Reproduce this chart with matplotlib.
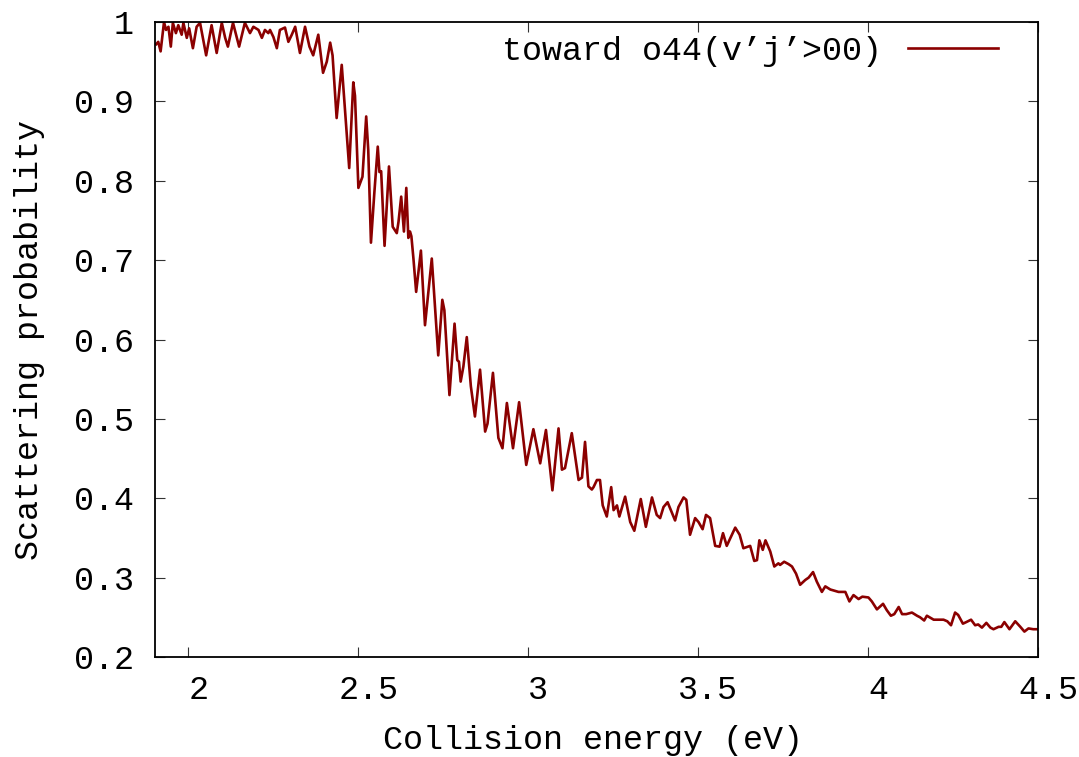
import matplotlib
matplotlib.use("Agg")
import matplotlib.pyplot as plt
from matplotlib.transforms import ScaledTranslation

energy = [
    1.905, 1.911, 1.918, 1.928, 1.934, 1.941, 1.948, 1.954, 1.963, 1.970,
    1.980, 1.985, 1.995, 2.002, 2.013, 2.024, 2.034, 2.052, 2.068, 2.083,
    2.098, 2.108, 2.116, 2.131, 2.149, 2.166, 2.181, 2.191, 2.206, 2.216,
    2.225, 2.235, 2.240, 2.250, 2.260, 2.269, 2.284, 2.294, 2.304, 2.314,
    2.328, 2.343, 2.356, 2.367, 2.382, 2.396, 2.407, 2.417, 2.424, 2.436,
    2.451, 2.473, 2.485, 2.490, 2.500, 2.512, 2.523, 2.529, 2.537, 2.547,
    2.557, 2.562, 2.567, 2.577, 2.590, 2.601, 2.613, 2.618, 2.626, 2.634,
    2.641, 2.647, 2.652, 2.656, 2.662, 2.670, 2.684, 2.696, 2.716, 2.735,
    2.747, 2.753, 2.768, 2.783, 2.791, 2.796, 2.801, 2.809, 2.819, 2.831,
    2.843, 2.858, 2.873, 2.880, 2.896, 2.912, 2.924, 2.937, 2.955, 2.973,
    2.994, 3.015, 3.035, 3.052, 3.071, 3.089, 3.099, 3.108, 3.128, 3.148,
    3.158, 3.167, 3.177, 3.187, 3.192, 3.202, 3.211, 3.219, 3.231, 3.244,
    3.251, 3.261, 3.268, 3.285, 3.300, 3.312, 3.331, 3.346, 3.364, 3.378,
    3.388, 3.398, 3.410, 3.432, 3.442, 3.457, 3.465, 3.476, 3.491, 3.501,
    3.513, 3.523, 3.535, 3.550, 3.563, 3.573, 3.584, 3.609, 3.622, 3.633,
    3.653, 3.665, 3.673, 3.680, 3.690, 3.698, 3.712, 3.724, 3.736, 3.741,
    3.753, 3.766, 3.776, 3.788, 3.800, 3.815, 3.825, 3.838, 3.849, 3.864,
    3.874, 3.889, 3.913, 3.933, 3.945, 3.957, 3.972, 3.983, 4.001, 4.011,
    4.026, 4.044, 4.055, 4.067, 4.077, 4.090, 4.100, 4.112, 4.129, 4.144,
    4.153, 4.165, 4.173, 4.193, 4.222, 4.233, 4.244, 4.256, 4.265, 4.279,
    4.289, 4.303, 4.315, 4.324, 4.335, 4.348, 4.360, 4.369, 4.384, 4.392,
    4.401, 4.416, 4.433, 4.448, 4.460, 4.472, 4.486, 4.499,
]

probability = [
    0.972, 0.975, 0.963, 1.000, 0.990, 0.994, 0.969, 0.999, 0.986, 0.996,
    0.984, 0.999, 0.980, 0.992, 0.967, 0.994, 0.999, 0.958, 0.996, 0.961,
    0.999, 0.980, 0.969, 0.999, 0.969, 0.999, 0.986, 0.994, 0.990, 0.980,
    0.990, 0.986, 0.990, 0.981, 0.967, 0.990, 0.993, 0.975, 0.984, 0.994,
    0.961, 0.994, 0.969, 0.958, 0.984, 0.936, 0.950, 0.974, 0.958, 0.879,
    0.946, 0.816, 0.924, 0.907, 0.791, 0.805, 0.881, 0.839, 0.722, 0.785,
    0.843, 0.811, 0.812, 0.718, 0.818, 0.742, 0.734, 0.748, 0.780, 0.736,
    0.791, 0.728, 0.736, 0.730, 0.702, 0.660, 0.712, 0.618, 0.702, 0.580,
    0.650, 0.637, 0.530, 0.620, 0.574, 0.572, 0.547, 0.566, 0.603, 0.541,
    0.503, 0.562, 0.484, 0.494, 0.558, 0.476, 0.463, 0.520, 0.463, 0.521,
    0.442, 0.487, 0.444, 0.486, 0.410, 0.488, 0.436, 0.438, 0.482, 0.423,
    0.426, 0.471, 0.415, 0.411, 0.414, 0.423, 0.423, 0.391, 0.377, 0.414,
    0.385, 0.391, 0.377, 0.402, 0.370, 0.359, 0.399, 0.364, 0.401, 0.379,
    0.375, 0.389, 0.395, 0.372, 0.389, 0.401, 0.398, 0.354, 0.375, 0.370,
    0.361, 0.379, 0.375, 0.340, 0.339, 0.356, 0.340, 0.363, 0.354, 0.337,
    0.340, 0.321, 0.322, 0.347, 0.335, 0.347, 0.333, 0.314, 0.318, 0.316,
    0.320, 0.317, 0.314, 0.305, 0.291, 0.297, 0.300, 0.307, 0.295, 0.282,
    0.289, 0.285, 0.282, 0.282, 0.270, 0.278, 0.273, 0.276, 0.275, 0.270,
    0.260, 0.267, 0.259, 0.252, 0.254, 0.263, 0.254, 0.254, 0.256, 0.252,
    0.250, 0.246, 0.252, 0.247, 0.247, 0.245, 0.240, 0.256, 0.253, 0.242,
    0.244, 0.247, 0.240, 0.241, 0.237, 0.243, 0.237, 0.235, 0.238, 0.238,
    0.244, 0.235, 0.245, 0.238, 0.232, 0.236, 0.235, 0.235,
]

x_ticks = [2.0, 2.5, 3.0, 3.5, 4.0, 4.5]
x_tick_labels = ["2", "2.5", "3", "3.5", "4", "4.5"]
y_ticks = [0.2, 0.3, 0.4, 0.5, 0.6, 0.7, 0.8, 0.9, 1.0]
y_tick_labels = ["0.2", "0.3", "0.4", "0.5", "0.6", "0.7", "0.8", "0.9", "1"]
series_label = "toward o44(v\u2019j\u2019>00)"
x_title = "Collision energy (eV)"
y_title = "Scattering probability"

FONT = ["Liberation Mono", "DejaVu Sans Mono"]
FS = 24
COLOR = "#8b0000"

fig = plt.figure(figsize=(10.79, 7.57), dpi=100)
ax = fig.add_axes([154.5 / 1079, 1 - 657 / 757, (1038 - 154.5) / 1079, (657 - 22) / 757])

ax.plot(energy, probability, color=COLOR, lw=1.9, label=series_label, solid_joinstyle="round")

ax.set_xlim(1.9, 4.5)
ax.set_ylim(0.2, 1.0)
ax.set_xticks(x_ticks)
ax.set_xticklabels(x_tick_labels, family=FONT, fontsize=FS)
ax.set_yticks(y_ticks)
ax.set_yticklabels(y_tick_labels, family=FONT, fontsize=FS)
ax.tick_params(direction="in", length=7, width=0.8, top=True, right=True, color="#333333")
ax.tick_params(axis="x", pad=13)
ax.tick_params(axis="y", pad=15)
for lab in ax.get_xticklabels():
    lab.set_transform(lab.get_transform() + ScaledTranslation(10 / 100, 0, fig.dpi_scale_trans))
for sp in ax.spines.values():
    sp.set_linewidth(1.3)

ax.set_xlabel(x_title, family=FONT, fontsize=FS)
ax.xaxis.set_label_coords(0.4963, -0.1449)
ax.xaxis.label.set_verticalalignment("baseline")
ax.set_ylabel(y_title, family=FONT, fontsize=FS)
ax.yaxis.set_label_coords(-0.141, 0.5)
ax.yaxis.label.set_verticalalignment("center")

leg = ax.legend(loc="upper right", bbox_to_anchor=(0.955, 0.978), frameon=False,
                markerfirst=False, handlelength=2.7, handletextpad=0.8,
                borderaxespad=0, borderpad=0,
                prop={"family": FONT, "size": FS})

fig.savefig("out.png", dpi=100)
